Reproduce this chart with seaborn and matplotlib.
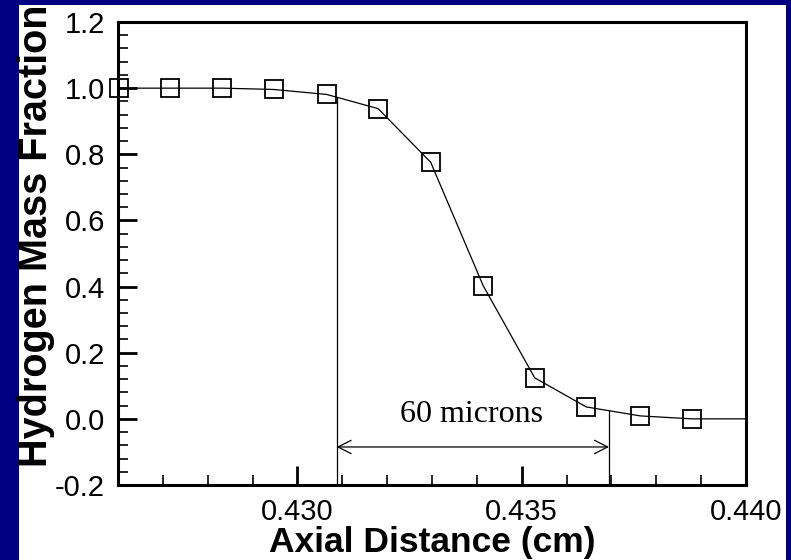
import matplotlib
matplotlib.use("Agg")
import matplotlib.pyplot as plt
from matplotlib.patches import Rectangle
from matplotlib.ticker import MultipleLocator, FixedLocator, FormatStrFormatter
import seaborn as sns
import pandas as pd

# Hydrogen mass fraction profile across the flame front
axial_cm = [0.42602, 0.42717, 0.42832, 0.42947, 0.43065, 0.43180,
            0.43297, 0.43414, 0.43529, 0.43644, 0.43764, 0.43879, 0.44000]
h2_fraction = [1.000, 1.000, 1.000, 0.996, 0.981, 0.938,
               0.776, 0.403, 0.124, 0.036, 0.009, 0.000, 0.000]
n_markers = 12  # last point only closes the line at the axis edge

# Bounds of the 60 micron region
span_left = 0.430875
span_right = 0.436945
span_left_top = 0.974
span_right_top = 0.024
span_arrow_y = -0.085
span_label = "60 microns"

x_ticks = [0.430, 0.435, 0.440]
y_ticks = [-0.2, 0.0, 0.2, 0.4, 0.6, 0.8, 1.0, 1.2]

df = pd.DataFrame({"axial": axial_cm, "h2": h2_fraction})

sns.set_style("ticks")
plt.rcParams["font.family"] = ["Liberation Sans", "DejaVu Sans"]
plt.rcParams["axes.unicode_minus"] = False

fig = plt.figure(figsize=(7.91, 5.60), dpi=100)
fig.patch.set_facecolor("#000080")
fig.patches.append(Rectangle((19 / 791, 0), (786 - 19) / 791, (560 - 5) / 560,
                             transform=fig.transFigure, facecolor="white",
                             edgecolor="none", zorder=-10))

ax = fig.add_axes([118 / 791, 75 / 560, 628 / 791, 463 / 560])
ax.set_facecolor("white")

sns.lineplot(data=df, x="axial", y="h2", ax=ax, color="black", linewidth=0.9,
             marker="s", markersize=12.8, markerfacecolor="none",
             markeredgecolor="black", markeredgewidth=1.3,
             markevery=list(range(n_markers)), clip_on=False, zorder=5)

# Width markers and the double-headed arrow
ax.plot([span_left, span_left], [-0.2, span_left_top], color="black", lw=0.9)
ax.plot([span_right, span_right], [-0.2, span_right_top], color="black", lw=0.9)
ax.annotate("", xy=(span_left, span_arrow_y), xytext=(span_right, span_arrow_y),
            arrowprops=dict(arrowstyle="<->,head_length=0.47,head_width=0.24",
                            color="black", lw=0.9, shrinkA=0, shrinkB=0,
                            mutation_scale=20))
ax.text((span_left + span_right) / 2 - 0.00003, -0.011, span_label,
        family=["Liberation Serif", "DejaVu Serif"], fontsize=23,
        ha="center", va="baseline", color="black")

ax.set_xlim(0.426, 0.440)
ax.set_ylim(-0.2, 1.2)
ax.xaxis.set_major_locator(FixedLocator(x_ticks))
ax.xaxis.set_minor_locator(MultipleLocator(0.001))
ax.xaxis.set_major_formatter(FormatStrFormatter("%.3f"))
ax.yaxis.set_major_locator(FixedLocator(y_ticks))
ax.yaxis.set_minor_locator(MultipleLocator(0.04))
ax.yaxis.set_major_formatter(FormatStrFormatter("%.1f"))

for side in ["left", "right", "top", "bottom"]:
    ax.spines[side].set_visible(True)
    ax.spines[side].set_linewidth(2.2)
    ax.spines[side].set_color("black")

ax.tick_params(which="both", direction="in", top=False, right=False,
               colors="black")
ax.tick_params(which="major", length=13.5, width=2.0, pad=9.4, labelsize=21)
ax.tick_params(which="minor", length=7.5, width=1.2)

ax.set_xlabel("Axial Distance (cm)", fontsize=25.5, fontweight="bold",
              color="black")
ax.xaxis.set_label_coords(0.5, -0.088)
ax.set_ylabel("Hydrogen Mass Fraction", fontsize=28.5, fontweight="bold",
              color="black", va="center")
ax.yaxis.set_label_coords(-0.1306, 0.538)

fig.savefig("out.png", dpi=100, facecolor=fig.get_facecolor())
